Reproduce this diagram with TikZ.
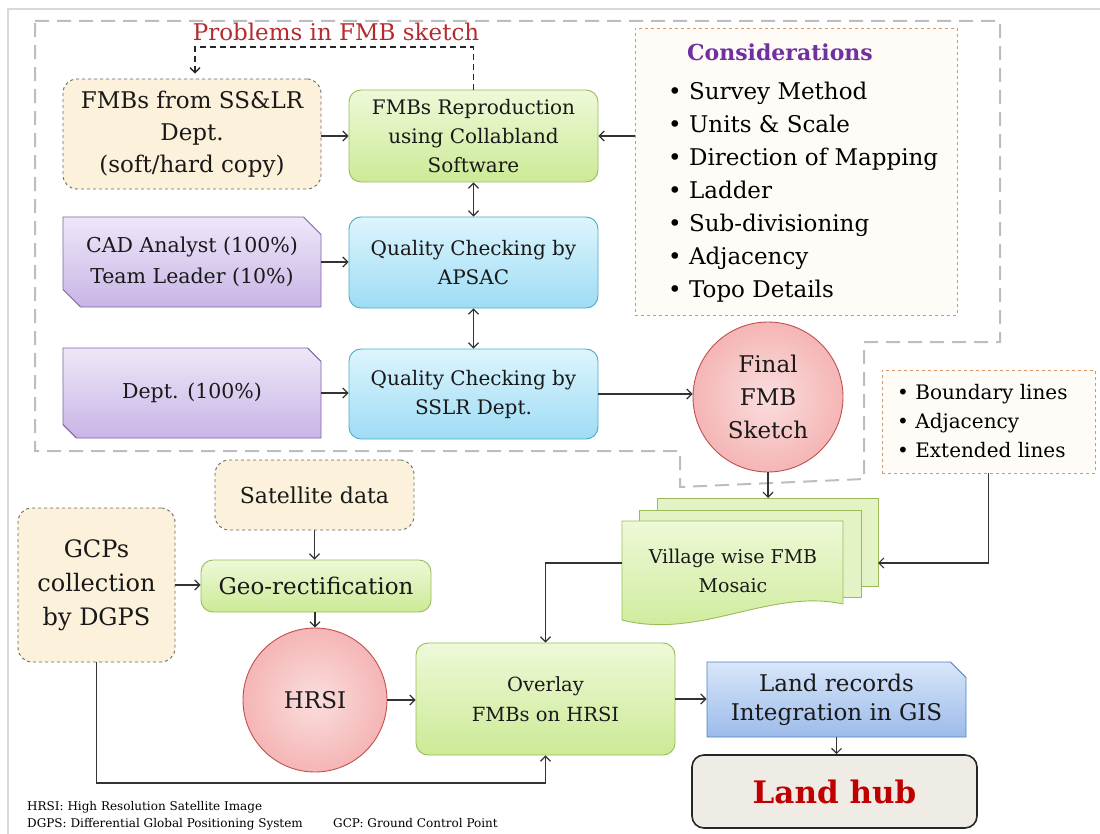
\documentclass[tikz,border=0pt]{standalone}
\usepackage{fontspec}
\setmainfont{DejaVu Serif}
\usetikzlibrary{arrows.meta}
\usetikzlibrary{shapes.misc}
\tikzset{>={Straight Barb[length=5pt,width=10pt]}}

\definecolor{creamfill}{HTML}{FCF1DA}
\definecolor{greentop}{HTML}{EEF9D8}
\definecolor{greenbot}{HTML}{CCEA96}
\definecolor{greenline}{HTML}{9BBB59}
\definecolor{bluetop}{HTML}{DDF5FD}
\definecolor{bluebot}{HTML}{9EDCF5}
\definecolor{blueline}{HTML}{4BACC6}
\definecolor{purpletop}{HTML}{EEE7F8}
\definecolor{purplebot}{HTML}{C8B5E6}
\definecolor{purpleline}{HTML}{8064A2}
\definecolor{pinkfill}{HTML}{F5B5B5}
\definecolor{pinkline}{HTML}{C0504D}
\definecolor{landtop}{HTML}{D8E6F9}
\definecolor{landbot}{HTML}{9CBBEA}
\definecolor{landline}{HTML}{4F81BD}
\definecolor{hubfill}{HTML}{EEECE4}
\definecolor{notefill}{HTML}{FFFCF7}
\definecolor{noteline}{HTML}{D9956A}
\definecolor{probred}{HTML}{B52A2E}
\definecolor{titlepurple}{HTML}{7030A0}
\definecolor{hubred}{HTML}{C00000}
\definecolor{regiongray}{HTML}{BDBDBD}

\newcommand{\fsz}[2]{\fontsize{#1}{#2}\selectfont}

\tikzset{
  box/.style={inner sep=0pt, align=center, text=black!90, line width=0.9pt},
  srcbox/.style={box, draw=black!60, dashed, fill=creamfill, rounded corners=14pt},
  procbox/.style={box, draw=greenline, top color=greentop, bottom color=greenbot, rounded corners=12pt},
  qcbox/.style={box, draw=blueline, top color=bluetop, bottom color=bluebot, rounded corners=12pt},
  staffbox/.style={box, draw=purpleline, top color=purpletop, bottom color=purplebot,
    chamfered rectangle, chamfered rectangle corners={north east,south west},
    chamfered rectangle xsep=14pt},
  endcircle/.style={box, circle, draw=pinkline, inner color=pinkfill!45!white, outer color=pinkfill},
  notebox/.style={box, draw=noteline, dashed, fill=notefill},
  conn/.style={draw=black!80, line width=1.2pt, ->},
  probline/.style={draw=black!85, line width=1.3pt, dash pattern=on 6pt off 4pt},
  region/.style={draw=regiongray, line width=2pt, dash pattern=on 14pt off 8pt}
}

\begin{document}
\begin{tikzpicture}[x=1pt,y=-1pt]
  \useasboundingbox (0,0) rectangle (1100,834);

  % slide frame and FMB region
  \draw[gray!30,line width=1.5pt] (1100,9) -- (8,9) -- (8,834);
  \draw[region] (35,21) -- (1000,21) -- (1000,342) -- (864,342) -- (864,479)
    -- (680,487) -- (680,451) -- (35,451) -- cycle;

  % FMB preparation and checking
  \node[text=probred, font=\fsz{23}{28}] (problems) at (336,32) {Problems in FMB sketch};
  \node[srcbox, minimum width=258pt, minimum height=110pt, font=\fsz{23}{32}] (srcfmb) at (192,134)
    {FMBs from SS\&LR\\Dept.\\(soft/hard copy)};
  \node[procbox, minimum width=249pt, minimum height=92pt, font=\fsz{20}{29}] (repro) at (473.5,136)
    {FMBs Reproduction\\using Collabland\\Software};
  \node[staffbox, minimum width=258pt, minimum height=90pt, font=\fsz{20.5}{31}] (cad) at (192,262)
    {CAD Analyst (100\%)\\Team Leader (10\%)};
  \node[qcbox, minimum width=249pt, minimum height=91pt, font=\fsz{20}{29}] (apsac) at (473.5,262.5)
    {Quality Checking by\\APSAC};
  \node[staffbox, minimum width=258pt, minimum height=90pt, font=\fsz{20.5}{31}] (dept) at (192,393)
    {Dept. (100\%)};
  \node[qcbox, minimum width=249pt, minimum height=90pt, font=\fsz{20}{29}] (sslr) at (473.5,394)
    {Quality Checking by\\SSLR Dept.};
  \node[endcircle, minimum size=150pt, font=\fsz{23}{33}] (final) at (768,397) {Final\\FMB\\Sketch};

  % considerations
  \node[notebox, minimum width=322pt, minimum height=287pt] (consid) at (796,171.5) {};
  \node[text=titlepurple, font=\fsz{22}{26}\bfseries] (considtitle) at (780,52) {Considerations};
  \foreach \txt [count=\i] in {Survey Method, Units \& Scale, Direction of Mapping, Ladder,
      Sub-divisioning, Adjacency, Topo Details}
    \node[anchor=base west, inner sep=0pt, font=\fsz{23}{28}] (cons\i) at (668,{100+33*(\i-1)}) {\textbullet\ \txt};

  \node[notebox, minimum width=213pt, minimum height=103pt] (bound) at (988.5,421.5) {};
  \foreach \txt [count=\i] in {Boundary lines, Adjacency, Extended lines}
    \node[anchor=base west, inner sep=0pt, font=\fsz{20}{26}] (bound\i) at (897,{399+29*(\i-1)}) {\textbullet\ \txt};

  % village mosaic (stacked sheets)
  \draw[greenline, fill=greenbot!55!white, line width=0.9pt] (657,498) rectangle (878,586);
  \draw[greenline, fill=greenbot!55!white, line width=0.9pt] (639,510) rectangle (861,597);
  \draw[greenline, top color=greentop, bottom color=greenbot, line width=0.9pt]
    (622,521) -- (843,521) -- (843,604) .. controls (770,588) and (700,640) .. (622,620) -- cycle;
  \node[box, font=\fsz{19}{29}] (mosaic) at (733,571) {Village wise FMB\\Mosaic};
  \coordinate (mosaicT) at (768,498);
  \coordinate (mosaicR) at (878,563);
  \coordinate (mosaicL) at (622,563);

  % satellite processing
  \node[srcbox, minimum width=199pt, minimum height=70pt, font=\fsz{22}{30}] (sat) at (314.5,495) {Satellite data};
  \node[srcbox, minimum width=157pt, minimum height=154pt, font=\fsz{24}{34}] (gcp) at (96.5,585)
    {GCPs\\collection\\by DGPS};
  \node[procbox, minimum width=230pt, minimum height=52pt, font=\fsz{23}{30}] (geo) at (316,586) {Geo-rectification};
  \node[endcircle, minimum size=144pt, font=\fsz{23}{30}] (hrsi) at (315,700) {HRSI};
  \node[procbox, minimum width=259pt, minimum height=112pt, font=\fsz{19.5}{30}] (overlay) at (545.5,699)
    {Overlay\\FMBs on HRSI};
  \node[box, draw=landline, top color=landtop, bottom color=landbot, chamfered rectangle,
    chamfered rectangle corners=north east, chamfered rectangle xsep=12pt,
    minimum width=259pt, minimum height=75pt, font=\fsz{23}{29}] (land) at (836.5,699.5)
    {Land records\\Integration in GIS};
  \node[box, draw=black!85, line width=1.6pt, fill=hubfill, rounded corners=12pt,
    minimum width=285pt, minimum height=73pt, text=hubred, font=\fsz{31}{36}\bfseries] (hub) at (834.5,791.5)
    {Land hub};
  \coordinate (loopB) at (545.5,783);

  % legend
  \node[anchor=base west, inner sep=0pt, font=\fsz{12}{15}] (legend1) at (27,810) {HRSI: High Resolution Satellite Image};
  \node[anchor=base west, inner sep=0pt, font=\fsz{12}{15}] (legend2) at (27,827) {DGPS: Differential Global Positioning System};
  \node[anchor=base west, inner sep=0pt, font=\fsz{12}{15}] (legend3) at (333,827) {GCP: Ground Control Point};

  % connectors
  \coordinate (probL) at (195,47);
  \draw[probline, ->, shorten >=5pt] (repro.north) |- (probL) -- (srcfmb.north -| probL);
  \draw[conn] (srcfmb.east |- repro) -- (repro.west);
  \draw[conn] (consid.west |- repro) -- (repro.east);
  \draw[conn, <->] (repro.south) -- (apsac.north);
  \draw[conn, <->] (apsac.south) -- (sslr.north);
  \draw[conn] (cad.east) -- (apsac.west |- cad.east);
  \draw[conn] (dept.east) -- (sslr.west |- dept.east);
  \draw[conn] (sslr.east) -- (final.west |- sslr.east);
  \draw[conn] (final.south) -- (mosaicT);
  \draw[conn] (bound.south) |- (mosaicR);
  \draw[conn] (mosaicL) -| (overlay.north);
  \draw[conn] (sat.south) -- (sat.south |- geo.north);
  \draw[conn] (gcp.east) -- (geo.west |- gcp.east);
  \draw[conn] (geo.south -| hrsi.north) -- (hrsi.north);
  \draw[conn] (hrsi.east) -- (overlay.west |- hrsi.east);
  \draw[conn] (gcp.south) |- (loopB) -- (overlay.south);
  \draw[conn] (overlay.east) -- (land.west |- overlay.east);
  \draw[conn] (land.south) -- (land.south |- hub.north);

\end{tikzpicture}
\end{document}
